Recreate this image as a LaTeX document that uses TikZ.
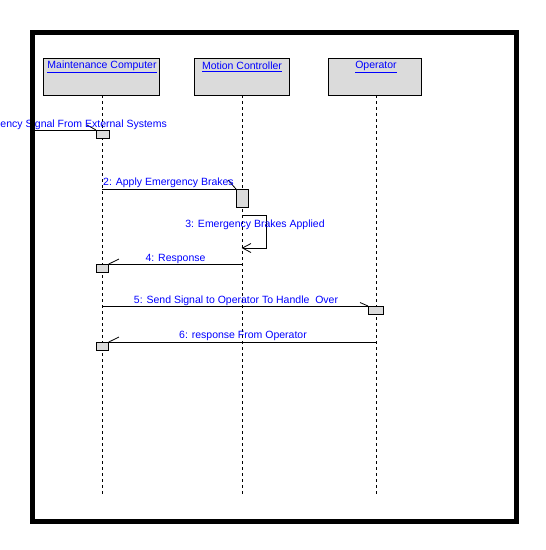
\documentclass[tikz,border=0pt]{standalone}
\usepackage{fontspec}
\setmainfont{Liberation Sans}
\begin{document}
\begin{tikzpicture}[x=1pt,y=-1pt]
\tikzset{
  head/.style={draw, line width=0.8pt, fill=black!14, inner sep=0pt},
  ttl/.style={text=blue, font=\fontsize{10.5}{12}\selectfont, inner sep=0pt},
  msg/.style={text=blue, font=\fontsize{10.5}{12}\selectfont, inner sep=0pt},
  life/.style={dash pattern=on 3pt off 3pt, line width=0.8pt},
  act/.style={draw, line width=0.8pt, fill=black!14, inner sep=0pt, anchor=north west},
  wire/.style={line width=0.8pt},
}
\useasboundingbox (0,0) rectangle (546,550);
\fill[white] (0,0) rectangle (546,550);
% heads
\node[head, minimum width=116pt, minimum height=37pt] (mc) at (101,76.5) {};
\node[head, minimum width=95pt, minimum height=37pt] (mo) at (241.5,76.5) {};
\node[head, minimum width=93pt, minimum height=37pt] (op) at (374.5,76.5) {};
\node[ttl] (mct) at (102,67) {\underline{Maintenance Computer}};
\node[ttl] (mot) at (242,67) {\underline{Motion Controller}};
\node[ttl] (opt) at (376,67) {\underline{Operator}};
% lifelines
\coordinate (mce) at (102,495);
\coordinate (moe) at (242,495);
\coordinate (ope) at (376,495);
\draw[life] (mc.south -| mce) -- (mce);
\draw[life] (mo.south -| moe) -- (moe);
\draw[life] (op.south -| ope) -- (ope);
% activations
\node[act, minimum width=13pt, minimum height=8pt] (a1) at (96,130) {};
\node[act, minimum width=12pt, minimum height=18pt] (a2) at (236,189) {};
\node[act, minimum width=12pt, minimum height=8pt] (a4) at (96,264) {};
\node[act, minimum width=15pt, minimum height=8pt] (a5) at (368,306) {};
\node[act, minimum width=12pt, minimum height=8pt] (a6) at (96,342) {};
% message 1
\coordinate (f1) at (32,130);
\draw[wire] (f1) -- (a1.north west);
\coordinate (t1) at (87,125);
\draw[wire] (t1) -- (a1.north west);
\node[msg, anchor=base east] (l1) at (167,127) {1: Emergency Signal From External Systems};
% message 2
\coordinate (s2) at (102,189);
\draw[wire] (s2) -- (a2.north west);
\coordinate (t2) at (228,180);
\draw[wire] (t2) -- (a2.north west);
\node[msg, anchor=base] (l2) at (168.5,185) {2: Apply Emergency Brakes};
% message 3 (self)
\coordinate (s3) at (242,215);
\coordinate (c3) at (266,248);
\coordinate (e3) at (242.5,248);
\coordinate (h3a) at (251,243.5);
\coordinate (h3b) at (251,252.5);
\draw[wire] (s3) -| (c3) -- (e3);
\draw[wire] (h3a) -- (e3) -- (h3b);
\node[msg, anchor=base] (l3) at (255,227.5) {3: Emergency Brakes Applied};
% message 4
\coordinate (s4) at (242,264);
\draw[wire] (s4) -- (a4.north east);
\coordinate (t4) at (119,259);
\draw[wire] (t4) -- (a4.north east);
\node[msg, anchor=base] (l4) at (175.5,261) {4: Response};
% message 5
\coordinate (s5) at (102,306);
\draw[wire] (s5) -- (a5.north west);
\coordinate (t5) at (360,302.5);
\draw[wire] (t5) -- (a5.north west);
\node[msg, anchor=base] (l5) at (236,303) {5: Send Signal to Operator To Handle\ \ Over};
% message 6
\coordinate (s6) at (376,342);
\draw[wire] (s6) -- (a6.north east);
\coordinate (t6) at (119,337);
\draw[wire] (t6) -- (a6.north east);
\node[msg, anchor=base] (l6) at (243,338.5) {6: response From Operator};
% frame
\draw[line width=5pt] (32,32) rectangle (516,521);
\end{tikzpicture}
\end{document}
